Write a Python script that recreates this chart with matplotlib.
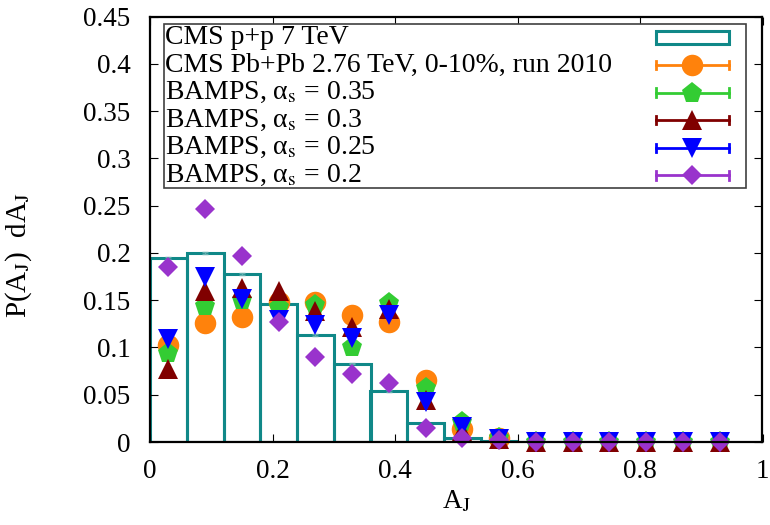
import matplotlib
matplotlib.use("Agg")
import matplotlib.pyplot as plt
from matplotlib.legend_handler import HandlerBase
from matplotlib.lines import Line2D
from matplotlib.patches import Rectangle
from matplotlib.ticker import MultipleLocator, FuncFormatter

plt.rcParams['font.family'] = ['Liberation Serif', 'DejaVu Serif']
plt.rcParams['mathtext.fontset'] = 'stix'

# ---------------- data ----------------
bin_edges = [0.0, 0.06, 0.12, 0.18, 0.24, 0.30, 0.36, 0.42, 0.48,
             0.54, 0.60, 0.66, 0.72, 0.78, 0.84]
pp_values = [0.195, 0.200, 0.178, 0.146, 0.113, 0.083, 0.054, 0.020,
             0.004, 0.001, 0.0, 0.0, 0.0, 0.0]
pp_errors = [0.001, 0.001, 0.001, 0.001, 0.001, 0.001, 0.001, 0.001,
             0.0005, 0.0005, 0.0, 0.0, 0.0, 0.0]

aj_centers = [0.03, 0.09, 0.15, 0.21, 0.27, 0.33, 0.39, 0.45,
              0.51, 0.57, 0.63, 0.69, 0.75, 0.81, 0.87, 0.93]
cms_pbpb = [0.103, 0.126, 0.1325, 0.148, 0.148, 0.134, 0.127, 0.0656,
            0.0137, 0.004]
bamps_035 = [0.094, 0.144, 0.150, 0.143, 0.145, 0.100, 0.147, 0.0568,
             0.021, 0.004, 0.0, 0.0, 0.0, 0.0, 0.0, 0.0]
bamps_030 = [0.077, 0.160, 0.163, 0.160, 0.139, 0.122, 0.141, 0.0444,
             0.012, 0.003, 0.0, 0.0, 0.0, 0.0, 0.0, 0.0]
bamps_025 = [0.109, 0.174, 0.151, 0.129, 0.124, 0.110, 0.134, 0.0426,
             0.016, 0.003, 0.0, 0.0, 0.0, 0.0, 0.0, 0.0]
bamps_020 = [0.185, 0.246, 0.197, 0.127, 0.0896, 0.0716, 0.062, 0.0145,
             0.004, 0.002, 0.0, 0.0, 0.0, 0.0, 0.0, 0.0]

labels = ['CMS p+p 7 TeV',
          'CMS Pb+Pb 2.76 TeV, 0-10%, run 2010',
          r'BAMPS, α$_\mathrm{s}$ = 0.35',
          r'BAMPS, α$_\mathrm{s}$ = 0.3',
          r'BAMPS, α$_\mathrm{s}$ = 0.25',
          r'BAMPS, α$_\mathrm{s}$ = 0.2']

# ---------------- style ----------------
TEAL = '#108888'
series_styles = [
    ('#ff820c', 'o', 15.5),
    ('#33cc33', 'p', 15.5),
    ('#800000', '^', 14.0),
    ('#0000ff', 'v', 14.0),
    ('#9933cc', 'D', 10.5),
]
FS = 19.5
LFS = 20.0

fig = plt.figure(figsize=(7.7, 5.25), dpi=100)
ax = fig.add_axes([150 / 770, 1 - 442 / 525, 612.5 / 770, 425.5 / 525])

# histogram (boxes)
widths = [bin_edges[i + 1] - bin_edges[i] for i in range(len(pp_values))]
ax.bar(bin_edges[:-1], pp_values, width=widths, align='edge', fill=False,
       edgecolor=TEAL, linewidth=2.2, zorder=1)
centers_pp = [bin_edges[i] + widths[i] / 2 for i in range(len(pp_values))]
ax.errorbar(centers_pp, pp_values, yerr=pp_errors, fmt='none',
            ecolor='#66b0b0', elinewidth=1.0, capsize=2.5, zorder=1.2)

# points
all_series = [cms_pbpb, bamps_035, bamps_030, bamps_025, bamps_020]
for i, (vals, (col, mk, ms)) in enumerate(zip(all_series, series_styles)):
    ax.plot(aj_centers[:len(vals)], vals, linestyle='none', marker=mk,
            markersize=ms, color=col, markeredgewidth=0, clip_on=False,
            zorder=2 + 0.01 * i)

ax.set_xlim(0, 1)
ax.set_ylim(0, 0.45)
ax.xaxis.set_major_locator(MultipleLocator(0.2))
ax.yaxis.set_major_locator(MultipleLocator(0.05))
fmt = FuncFormatter(lambda v, p: f'{v:g}')
ax.xaxis.set_major_formatter(fmt)
ax.yaxis.set_major_formatter(fmt)
ax.tick_params(which='both', direction='in', top=True, right=True,
               length=5.5, width=0.8, labelsize=FS, color='black')
ax.tick_params(axis='y', pad=14)
ax.tick_params(axis='x', pad=12)
for sp in ax.spines.values():
    sp.set_linewidth(1.6)
    sp.set_zorder(3)

ax.set_xlabel(r'A$_\mathrm{J}$', fontsize=FS)
ax.xaxis.set_label_coords(0.5, -0.11)
ax.set_ylabel(r'P(A$_\mathrm{J}$)  dA$_\mathrm{J}$', fontsize=21)
ax.yaxis.set_label_coords(-0.19, 0.44)


# ---------------- legend ----------------
class SampleHandler(HandlerBase):
    def __init__(self, color, marker=None, ms=0, box=False,
                 offset=354.0, length=53.0, yshift=-1.9):
        super().__init__()
        self.color = color
        self.marker = marker
        self.ms = ms
        self.box = box
        self.offset = offset
        self.length = length
        self.yshift = yshift

    def create_artists(self, legend, orig_handle, xdescent, ydescent,
                       width, height, fontsize, trans):
        y = -ydescent + height / 2 + self.yshift
        x0 = -xdescent + self.offset
        x1 = x0 + self.length
        arts = []
        if self.box:
            r = Rectangle((x0, y - 4.6), self.length, 9.2, fill=False,
                          edgecolor=self.color, linewidth=2.2)
            arts.append(r)
        else:
            arts.append(Line2D([x0, x1], [y, y], color=self.color, lw=2.0))
            arts.append(Line2D([x0, x0], [y - 3, y + 3], color=self.color, lw=2.0))
            arts.append(Line2D([x1, x1], [y - 3, y + 3], color=self.color, lw=2.0))
            arts.append(Line2D([(x0 + x1) / 2], [y], linestyle='none',
                               marker=self.marker, markersize=self.ms,
                               color=self.color, markeredgewidth=0))
        for a in arts:
            a.set_transform(trans)
        return arts


handles = [Rectangle((0, 0), 1, 1)] + [Line2D([], []) for _ in series_styles]
hmap = {handles[0]: SampleHandler(TEAL, box=True)}
for h, (col, mk, ms) in zip(handles[1:], series_styles):
    hmap[h] = SampleHandler(col, mk, ms)

# legend frame (drawn separately so the row layout can be tight)
frame = Rectangle((14 / 612.5, (442 - 188) / 425.5), 582 / 612.5, 164 / 425.5,
                  transform=ax.transAxes, facecolor='white',
                  edgecolor='#404040', linewidth=1.2, zorder=4)
ax.add_patch(frame)

leg = ax.legend(handles, labels, handler_map=hmap, loc='upper left',
                bbox_to_anchor=(14 / 612.5, (442 - 17.2) / 425.5),
                fontsize=LFS, handlelength=0, handletextpad=0.02,
                handleheight=1.557, borderpad=0, borderaxespad=0,
                labelspacing=-0.262, frameon=False)
leg.set_zorder(5)

fig.savefig('out.png', dpi=100)
